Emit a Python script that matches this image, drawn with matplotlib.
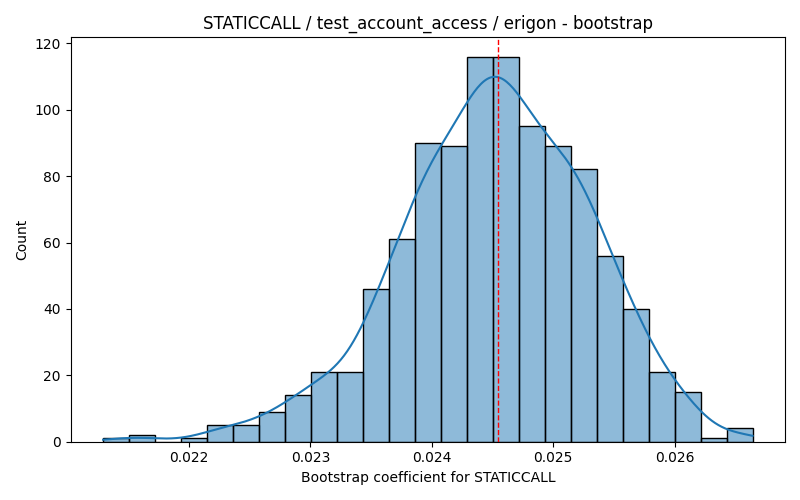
import numpy as np
import matplotlib
matplotlib.use("Agg")
import matplotlib.pyplot as plt

# Histogram data
bin_start = 0.021293
bin_end = 0.026642
counts = [1, 2, 0, 1, 5, 5, 9, 14, 21, 21, 46, 61, 90, 89, 116, 116,
          95, 89, 82, 56, 40, 21, 15, 1, 4]
mean_value = 0.024545

title = "STATICCALL / test_account_access / erigon - bootstrap"
xlabel = "Bootstrap coefficient for STATICCALL"
ylabel = "Count"

counts = np.array(counts, dtype=float)
edges = np.linspace(bin_start, bin_end, len(counts) + 1)
width = edges[1] - edges[0]
centers = (edges[:-1] + edges[1:]) / 2

fig, ax = plt.subplots(figsize=(8, 5), dpi=100)
ax.bar(edges[:-1], counts, width=width, align="edge",
       color=(0.1216, 0.4667, 0.7059, 0.5), edgecolor="black", linewidth=1)

# KDE from the binned sample (Scott's rule), scaled to counts
sample = np.repeat(centers, counts.astype(int))
n = sample.size
bw = sample.std(ddof=1) * n ** (-1 / 5)
grid = np.linspace(bin_start, bin_end, 400)
dens = np.exp(-0.5 * ((grid[:, None] - sample[None, :]) / bw) ** 2).sum(axis=1)
dens /= (n * bw * np.sqrt(2 * np.pi))
ax.plot(grid, dens * n * width, color="#1f77b4", linewidth=1.5)

ax.axvline(mean_value, color="red", linestyle="--", linewidth=1)

ax.set_title(title, fontsize=12)
ax.set_xlabel(xlabel)
ax.set_ylabel(ylabel)
ax.margins(x=0.05)
ax.set_ylim(0, counts.max() * 1.05)
fig.tight_layout()
fig.savefig("out.png")
